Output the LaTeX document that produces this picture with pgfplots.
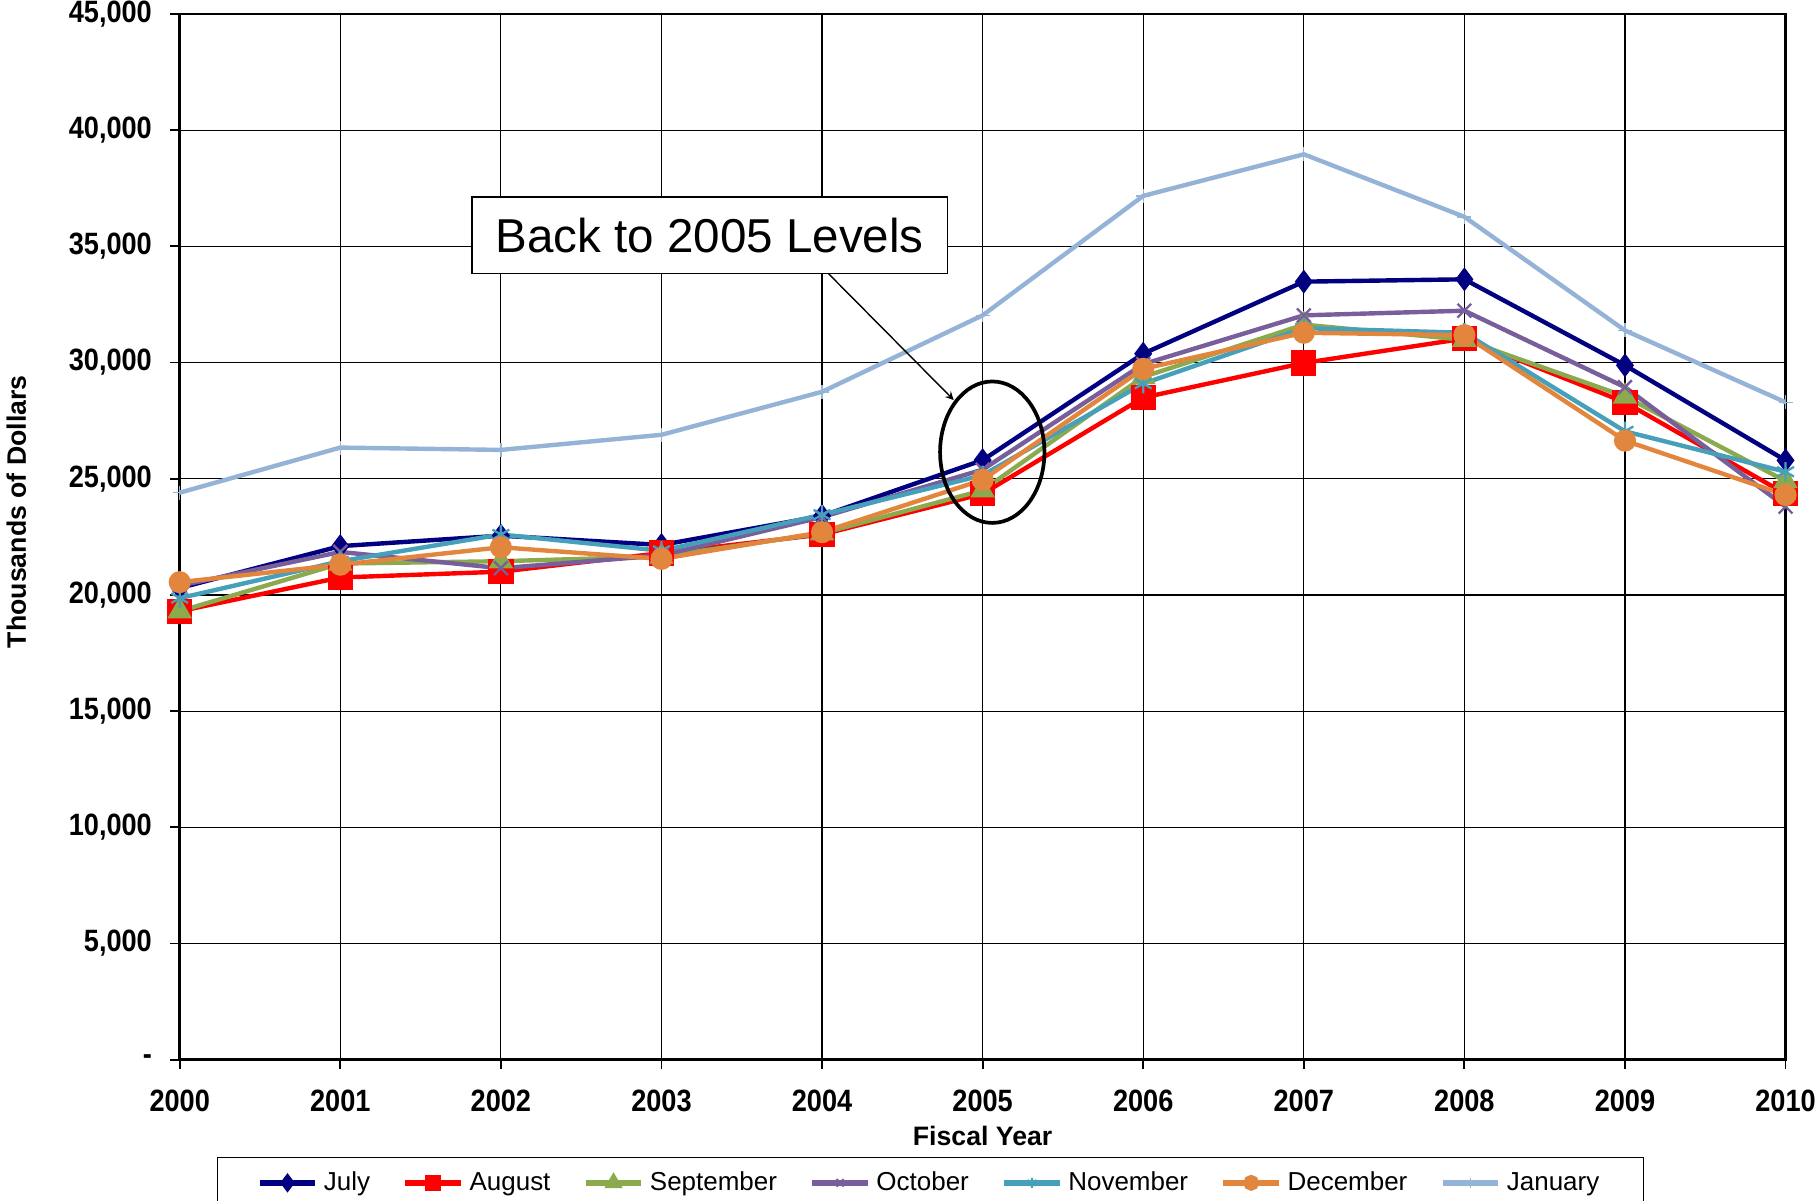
\documentclass[border=0pt]{standalone}
\usepackage{pgfplots}
\pgfplotsset{compat=1.18}
\usepackage{fontspec}
\setmainfont{Liberation Sans}
\newfontfamily\tickfont[FakeStretch=0.88]{Liberation Sans}
\definecolor{cJul}{RGB}{0,0,128}
\definecolor{cAug}{RGB}{255,0,0}
\definecolor{cSep}{RGB}{139,170,78}
\definecolor{cOct}{RGB}{120,95,155}
\definecolor{cNov}{RGB}{70,160,185}
\definecolor{cDec}{RGB}{226,134,62}
\definecolor{cJan}{RGB}{149,179,215}
\begin{document}
\begin{tikzpicture}
\useasboundingbox (-77.5pt,-60.5pt) rectangle (706.5pt,457pt);
\clip (-77.5pt,-60.5pt) rectangle (706.5pt,457pt);
\begin{axis}[at={(0pt,0pt)}, anchor=south west, scale only axis,
  width=692.5pt, height=451pt,
  xmin=2000, xmax=2010, ymin=0, ymax=45000,
  xtick={2000,2001,2002,2003,2004,2005,2006,2007,2008,2009,2010},
  xticklabels={2000,2001,2002,2003,2004,2005,2006,2007,2008,2009,2010},
  ytick={0,5000,10000,15000,20000,25000,30000,35000,40000,45000},
  yticklabels={-,{5,000},{10,000},{15,000},{20,000},{25,000},{30,000},{35,000},{40,000},{45,000}},
  tick align=outside, major tick length=4pt, tick style={black, line width=0.8pt},
  xtick pos=bottom, ytick pos=left,
  grid=major, major grid style={black, line width=0.5pt},
  axis line style={black, line width=1.2pt},
  tick label style={font=\tickfont\bfseries\fontsize{13.3}{14}\selectfont},
  xticklabel style={yshift=-5.5pt},
  yticklabel style={xshift=-4.5pt},
  xlabel={Fiscal Year}, ylabel={Thousands of Dollars},
  label style={font=\bfseries\fontsize{11.5}{12}\selectfont},
  xlabel style={at={(axis description cs:0.5,-0.0732)}, anchor=center},
  ylabel style={at={(axis description cs:-0.1018,0.524)}, anchor=center},
  every axis plot/.append style={line width=1.9pt},
  legend columns=7,
  legend style={at={(rel axis cs:0.0231,-0.0931)}, anchor=north west,
    draw=black, line width=0.6pt, font=\fontsize{11.2}{13}\selectfont,
    inner ysep=4pt, inner xsep=17pt,
    /tikz/every odd column/.append style={column sep=0.5pt},
    /tikz/every even column/.append style={column sep=12pt}},
  legend image code/.code={
    \draw[#1, line width=2.4pt, mark repeat=2, mark phase=2, mark size=2.2pt] plot coordinates {(0pt,0pt) (12pt,0pt) (24pt,0pt)};},
]
\addplot[color=cJul, mark=diamond*, mark size=3.6pt, mark options={solid, fill=cJul}] coordinates {
(2000,20300) (2001,22100) (2002,22550) (2003,22150) (2004,23400) (2005,25800)
(2006,30380) (2007,33480) (2008,33580) (2009,29880) (2010,25790)};
\addlegendentry{July}
\addplot[color=cAug, mark=square*, mark size=4.5pt, mark options={solid, fill=cAug}] coordinates {
(2000,19300) (2001,20750) (2002,21000) (2003,21800) (2004,22600) (2005,24350)
(2006,28490) (2007,29980) (2008,31030) (2009,28290) (2010,24350)};
\addlegendentry{August}
\addplot[color=cSep, mark=triangle*, mark size=4.2pt, mark options={solid, fill=cSep}] coordinates {
(2000,19300) (2001,21350) (2002,21450) (2003,21650) (2004,22650) (2005,24500)
(2006,29380) (2007,31630) (2008,30980) (2009,28540) (2010,24900)};
\addlegendentry{September}
\addplot[color=cOct, mark=x, mark size=4.2pt, mark options={solid, line width=1pt}] coordinates {
(2000,20400) (2001,21850) (2002,21150) (2003,21700) (2004,23350) (2005,25390)
(2006,29930) (2007,32030) (2008,32230) (2009,28940) (2010,23800)};
\addlegendentry{October}
\addplot[color=cNov, mark=asterisk, mark size=4.2pt, mark options={solid, line width=1pt}] coordinates {
(2000,19860) (2001,21450) (2002,22600) (2003,21900) (2004,23450) (2005,25150)
(2006,29090) (2007,31480) (2008,31280) (2009,27040) (2010,25300)};
\addlegendentry{November}
\addplot[color=cDec, mark=*, mark size=3.8pt, mark options={solid, fill=cDec}] coordinates {
(2000,20550) (2001,21300) (2002,22050) (2003,21550) (2004,22700) (2005,24950)
(2006,29730) (2007,31280) (2008,31180) (2009,26640) (2010,24300)};
\addlegendentry{December}
\addplot[color=cJan, mark=+, mark size=3pt, mark options={solid, line width=0.6pt}] coordinates {
(2000,24400) (2001,26340) (2002,26240) (2003,26890) (2004,28740) (2005,32030)
(2006,37170) (2007,38960) (2008,36270) (2009,31380) (2010,28290)};
\addlegendentry{January}
\draw[black, line width=1.6pt] (axis cs:2005.06,26142) ellipse [x radius=22.5pt, y radius=30.5pt];
\draw[black, line width=0.6pt, -stealth] (axis cs:2004.04,33825) -- (axis cs:2004.82,28387);
\node[draw=black, fill=white, line width=0.6pt, minimum width=205pt, minimum height=33pt,
  inner sep=0pt, font=\fontsize{20.5}{22}\selectfont] at (axis cs:2003.30,35471) {Back to 2005 Levels};
\end{axis}
\end{tikzpicture}
\end{document}
